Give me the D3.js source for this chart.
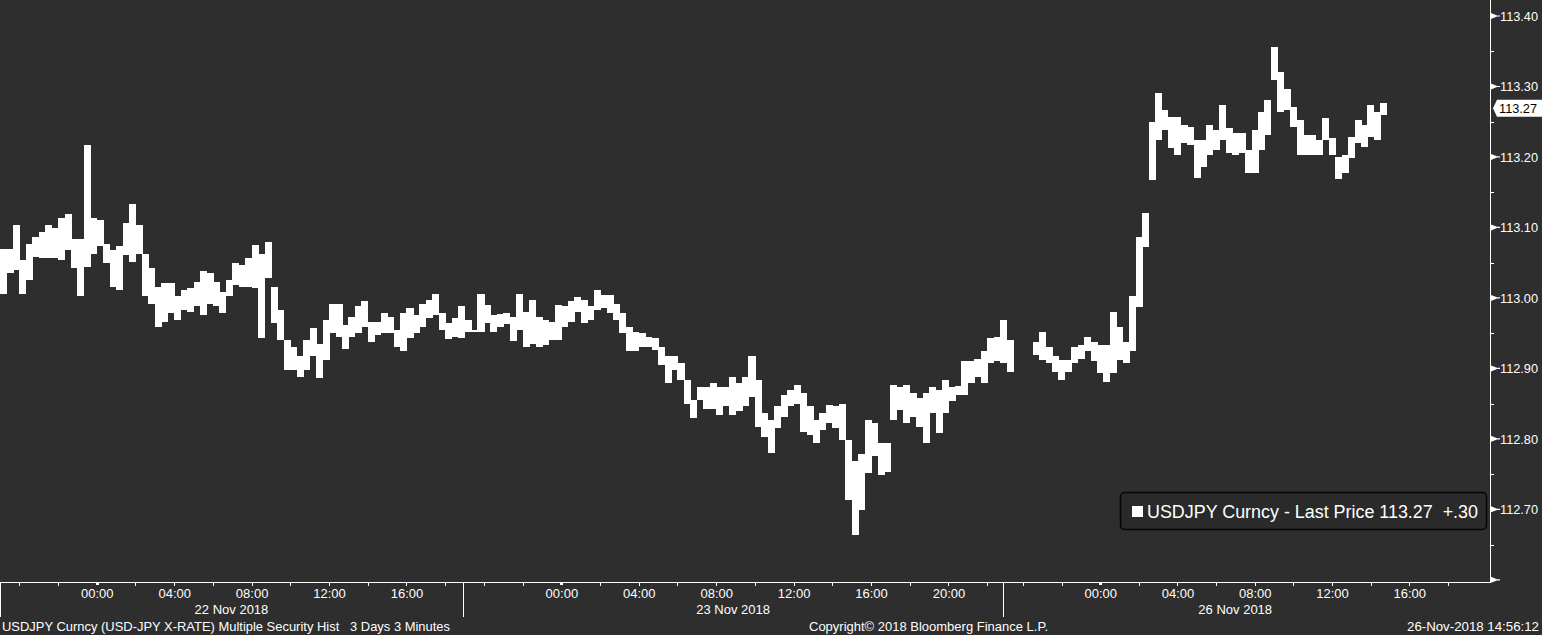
<!DOCTYPE html>
<html><head><meta charset="utf-8">
<script src="https://cdn.jsdelivr.net/npm/d3@7/dist/d3.min.js"></script>
<style>
html,body{margin:0;padding:0;background:#2e2e2e;}
svg{display:block;}
text{font-family:"Liberation Sans",Arial,sans-serif;fill:#ffffff;}
</style></head><body>
<svg id="c" width="1542" height="635"></svg>
<script>
// ---------------- DATA ----------------
const barMinutes = 20;
// segment 1: Wed 21 Nov 19:00 -> Fri 23 Nov 23:20 (20-minute high/low bars)
const seg1Start = "2018-11-21T19:00";
const seg1High = [
113.070,113.070,113.103,113.054,113.077,113.087,113.094,113.103,113.099,113.114,
113.119,113.084,113.083,113.217,113.113,113.110,113.077,113.068,113.073,113.106,
113.133,113.103,113.063,113.042,113.016,113.021,113.021,113.002,113.011,113.014,
113.023,113.038,113.035,113.023,113.009,113.025,113.049,113.047,113.056,113.075,
113.063,113.080,113.016,112.983,112.940,112.931,112.917,112.940,112.957,112.935,
112.969,112.992,112.992,112.962,112.973,112.988,112.995,112.966,112.966,112.978,
112.973,112.954,112.979,112.985,112.976,112.992,112.997,113.005,112.978,112.964,
112.971,112.988,112.969,112.955,113.005,112.990,112.976,112.977,112.978,112.973,
113.005,112.980,112.997,112.973,112.969,112.966,112.990,112.988,112.995,113.001,
112.997,112.988,113.011,113.004,113.004,112.992,112.978,112.959,112.952,112.950,
112.945,112.943,112.931,112.917,112.917,112.907,112.883,112.855,112.874,112.874,
112.879,112.874,112.874,112.888,112.879,112.888,112.918,112.883,112.836,112.827,
112.846,112.862,112.869,112.876,112.865,112.846,112.827,112.836,112.848,112.846,
112.850,112.798,112.768,112.779,112.827,112.822,112.794,112.794,112.876,112.874,
112.876,112.865,112.858,112.865,112.874,112.869,112.883,112.874,112.875,112.910,
112.910,112.914,112.924,112.943,112.945,112.969,112.940];
const seg1Low = [
113.006,113.035,113.040,113.005,113.025,113.058,113.056,113.056,113.056,113.054,
113.068,113.042,113.002,113.044,113.063,113.073,113.049,113.016,113.011,113.061,
113.051,113.063,113.002,112.992,112.959,112.966,112.978,112.969,112.983,112.980,
112.988,112.976,112.992,112.988,112.978,113.002,113.018,113.016,113.016,113.014,
112.943,113.028,112.964,112.940,112.898,112.898,112.888,112.898,112.917,112.886,
112.912,112.950,112.945,112.928,112.945,112.950,112.959,112.938,112.947,112.950,
112.950,112.931,112.924,112.943,112.950,112.959,112.971,112.976,112.954,112.941,
112.945,112.943,112.951,112.952,112.952,112.964,112.952,112.959,112.963,112.939,
112.954,112.931,112.935,112.931,112.933,112.940,112.940,112.959,112.966,112.980,
112.964,112.969,112.983,112.985,112.978,112.969,112.950,112.924,112.924,112.931,
112.931,112.926,112.905,112.879,112.898,112.883,112.850,112.829,112.855,112.843,
112.843,112.834,112.846,112.834,112.839,112.846,112.860,112.817,112.803,112.780,
112.815,112.831,112.846,112.850,112.810,112.805,112.794,112.813,112.822,112.815,
112.798,112.713,112.664,112.699,112.751,112.775,112.749,112.753,112.827,112.841,
112.822,112.831,112.817,112.794,112.836,112.808,112.836,112.853,112.862,112.862,
112.879,112.888,112.879,112.907,112.910,112.907,112.895];
// segment 2: Sun 25 Nov 20:30 -> Mon 26 Nov 14:50
const seg2Start = "2018-11-25T20:30";
const seg2High = [
112.938,112.952,112.931,112.917,112.912,112.912,112.931,112.933,112.945,112.938,
112.933,112.933,112.980,112.959,112.938,113.003,113.086,113.120,113.250,113.291,
113.267,113.257,113.257,113.245,113.242,113.224,113.224,113.245,113.238,113.274,
113.241,113.234,113.234,113.210,113.238,113.264,113.281,113.356,113.321,113.296,
113.271,113.252,113.231,113.231,113.224,113.255,113.227,113.200,113.203,113.228,
113.252,113.245,113.274,113.264,113.277];
const seg2Low = [
112.919,112.912,112.907,112.895,112.883,112.895,112.907,112.914,112.924,112.910,
112.893,112.881,112.893,112.912,112.907,112.924,112.987,113.072,113.167,113.224,
113.238,113.213,113.203,113.220,113.217,113.170,113.186,113.203,113.210,113.224,
113.206,113.203,113.206,113.177,113.177,113.210,113.231,113.309,113.264,113.267,
113.242,113.203,113.203,113.203,113.203,113.224,113.203,113.169,113.177,113.199,
113.220,113.214,113.228,113.224,113.260];
const lastPrice = 113.27;
const change = "+.30";
const security = "USDJPY Curncy";

// axis definitions
const xBreaks = ["2018-11-21T19:00","2018-11-23T23:20","2018-11-25T20:00","2018-11-26T20:11"];
const yMajor = [112.60,112.70,112.80,112.90,113.00,113.10,113.20,113.30,113.40];
const yLabels = [112.70,112.80,112.90,113.00,113.10,113.20,113.30,113.40];
const yMinor = [112.65,112.75,112.85,112.95,113.05,113.15,113.25,113.35];
const tickRanges = [["2018-11-21T20:00","2018-11-23T22:00"],["2018-11-25T20:00","2018-11-26T18:00"]];
const timeLabels = [
 "2018-11-22T00:00","2018-11-22T04:00","2018-11-22T08:00","2018-11-22T12:00","2018-11-22T16:00",
 "2018-11-23T00:00","2018-11-23T04:00","2018-11-23T08:00","2018-11-23T12:00","2018-11-23T16:00","2018-11-23T20:00",
 "2018-11-26T00:00","2018-11-26T04:00","2018-11-26T08:00","2018-11-26T12:00","2018-11-26T16:00"];
const dayBounds = ["2018-11-21T19:00","2018-11-22T18:55","2018-11-23T22:50","2018-11-26T19:00"];
const dayNames = ["22 Nov 2018","23 Nov 2018","26 Nov 2018"];
const footLeft = "USDJPY Curncy (USD-JPY X-RATE) Multiple Security Hist\u00a0\u00a0\u00a03 Days 3 Minutes";
const footMid = "Copyright\u00a9 2018 Bloomberg Finance L.P.";
const footRight = "26-Nov-2018 14:56:12";

// ---------------- CHART ----------------
const W = 1542, H = 635;
const svg = d3.select("#c");
svg.append("rect").attr("width", W).attr("height", H).attr("fill", "#2e2e2e");
const parse = d3.utcParse("%Y-%m-%dT%H:%M");
const x = d3.scaleUtc().domain(xBreaks.map(parse)).range([0, 1013, 1023, 1490]);
const y = d3.scaleLinear().domain([112.60, 113.40]).range([579.8, 16]);
const axisX = 1490, axisY = 583;

function bars(start, highs, lows) {
  const t0 = parse(start);
  return highs.map((h, i) => ({t: d3.utcMinute.offset(t0, i * barMinutes), h, l: lows[i]}));
}
const allBars = bars(seg1Start, seg1High, seg1Low).concat(bars(seg2Start, seg2High, seg2Low));

svg.append("g").selectAll("rect").data(allBars).join("rect")
  .attr("x", d => x(d.t))
  .attr("width", d => x(d3.utcMinute.offset(d.t, barMinutes)) - x(d.t) + 0.6)
  .attr("y", d => y(d.h))
  .attr("height", d => Math.max(1.2, y(d.l) - y(d.h)))
  .attr("fill", "#ffffff")
  .attr("shape-rendering", "crispEdges");

// axis lines
svg.append("line").attr("x1", axisX + 0.5).attr("x2", axisX + 0.5).attr("y1", 0).attr("y2", axisY)
  .attr("stroke", "#fff").attr("stroke-width", 1).attr("shape-rendering", "crispEdges");
svg.append("line").attr("x1", 0).attr("x2", axisX + 1).attr("y1", axisY - 0.5).attr("y2", axisY - 0.5)
  .attr("stroke", "#fff").attr("stroke-width", 1).attr("shape-rendering", "crispEdges");

// y axis: labels through d3.axisRight
const yAxis = d3.axisRight(y).tickValues(yLabels).tickFormat(d3.format(".2f")).tickSize(0).tickPadding(10);
const gy = svg.append("g").attr("transform", `translate(${axisX},0)`).call(yAxis);
gy.select(".domain").remove();
gy.selectAll("text").attr("font-size", null).style("font-size", "13.5px").attr("textLength", 38).attr("lengthAdjust", "spacingAndGlyphs");
gy.attr("font-size", null).attr("font-family", null);
// major triangles
svg.append("g").selectAll("path").data(yMajor).join("path")
  .attr("d", v => { const yy = y(v); return `M${axisX + 1},${yy - 3}L${axisX + 7},${yy - 0.6}L${axisX + 10},${yy - 0.6}L${axisX + 10},${yy + 0.6}L${axisX + 7},${yy + 0.6}L${axisX + 1},${yy + 3}Z`; })
  .attr("fill", "#fff");
// minor ticks
svg.append("g").selectAll("line").data(yMinor).join("line")
  .attr("x1", axisX + 1).attr("x2", axisX + 4).attr("y1", v => Math.round(y(v)) + 0.5).attr("y2", v => Math.round(y(v)) + 0.5)
  .attr("stroke", "#fff").attr("stroke-width", 1);

// last price tag
const ly = y(lastPrice) + 0.6;
svg.append("path")
  .attr("d", `M${axisX + 3},${ly}L${axisX + 7},${ly - 8.5}L${W},${ly - 8.5}L${W},${ly + 8.5}L${axisX + 7},${ly + 8.5}Z`)
  .attr("fill", "#fff");
svg.append("text").attr("x", axisX + 9).attr("y", ly + 5).text(d3.format(".2f")(lastPrice))
  .style("font-size", "13.5px").style("fill", "#000").attr("textLength", 38).attr("lengthAdjust", "spacingAndGlyphs");

// x axis ticks every 2 hours
const tickTimes = tickRanges.flatMap(([a, b]) => d3.utcHour.every(2).range(parse(a), d3.utcMinute.offset(parse(b), 1)));
svg.append("g").selectAll("rect").data(tickTimes).join("rect")
  .attr("x", d => Math.round(x(d)) - (d.getUTCHours() === 0 ? 1 : 0))
  .attr("y", axisY)
  .attr("width", d => d.getUTCHours() === 0 ? 3 : 1)
  .attr("height", d => d.getUTCHours() === 0 ? 2 : 3)
  .attr("fill", "#fff").attr("shape-rendering", "crispEdges");

// time labels through d3.axisBottom
const xAxis = d3.axisBottom(x).tickValues(timeLabels.map(parse)).tickFormat(d3.utcFormat("%H:%M")).tickSize(0).tickPadding(0);
const gx = svg.append("g").attr("transform", `translate(0,${axisY})`).call(xAxis);
gx.select(".domain").remove();
gx.attr("font-size", null).attr("font-family", null);
gx.selectAll("text").attr("dy", null).attr("y", 15).style("font-size", "13px");

// day separators and date labels
const bounds = dayBounds.map(parse);
svg.append("g").selectAll("line").data(bounds.slice(0, 3)).join("line")
  .attr("x1", d => Math.round(x(d)) + 0.5).attr("x2", d => Math.round(x(d)) + 0.5)
  .attr("y1", axisY).attr("y2", 617).attr("stroke", "#fff").attr("stroke-width", 1);
svg.append("g").selectAll("text").data(dayNames).join("text")
  .attr("x", (d, i) => (x(bounds[i]) + x(bounds[i + 1])) / 2)
  .attr("y", 614).attr("text-anchor", "middle").style("font-size", "13px").text(d => d);

// legend
svg.append("rect").attr("x", 1120.5).attr("y", 492.5).attr("width", 366).attr("height", 37).attr("rx", 4)
  .attr("fill", "#2a2a2a").attr("stroke", "#050505").attr("stroke-width", 1.5);
svg.append("rect").attr("x", 1132).attr("y", 506).attr("width", 11).attr("height", 11).attr("fill", "#fff");
svg.append("text").attr("x", 1147).attr("y", 518).style("font-size", "18px")
  .attr("textLength", 331).attr("lengthAdjust", "spacingAndGlyphs")
  .text(`${security} - Last Price ${d3.format(".2f")(lastPrice)}\u00a0\u00a0${change}`);

// footer
svg.append("text").attr("x", 2).attr("y", 631).style("font-size", "13.5px")
  .attr("textLength", 448).attr("lengthAdjust", "spacingAndGlyphs").text(footLeft);
svg.append("text").attr("x", 809).attr("y", 631).style("font-size", "13.5px")
  .attr("textLength", 239).attr("lengthAdjust", "spacingAndGlyphs").text(footMid);
svg.append("text").attr("x", 1407).attr("y", 631).style("font-size", "13.5px")
  .attr("textLength", 132).attr("lengthAdjust", "spacingAndGlyphs").text(footRight);
</script>
</body></html>
